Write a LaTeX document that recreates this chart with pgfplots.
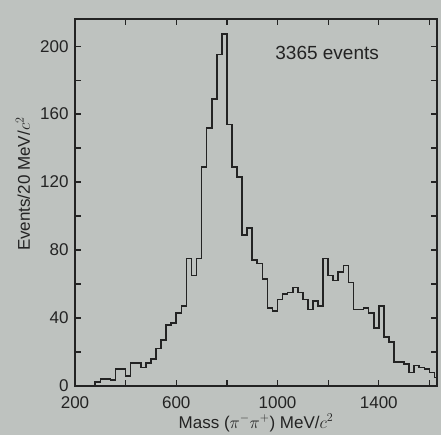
\documentclass[border=0pt]{standalone}
\usepackage{fontspec}
\setmainfont{Liberation Sans}
\usepackage{pgfplots}
\usepackage{pgfplotstable}
\pgfplotsset{compat=1.18}
\usetikzlibrary{backgrounds}
\definecolor{bg}{RGB}{190,194,191}
\definecolor{ink}{RGB}{35,35,35}

\pgfplotstableread{
x y
280 0
280 2.5
300 4
320 4
340 3.5
360 10
380 10
400 6
420 13.5
440 13.5
460 11
480 13.5
500 16
520 22
540 27
560 36
580 37
600 43
620 47
640 75
660 65
680 75
700 129
720 152
740 169
760 195
780 207
800 154
820 129
840 123
860 89
880 93
900 74
920 72
940 63
960 46
980 44
1000 51
1020 54
1040 55
1060 58
1080 55
1100 51
1120 45
1140 50
1160 47
1180 75
1200 65
1220 62
1240 67
1260 71
1280 61
1300 45
1320 45
1340 46
1360 43
1380 34
1400 47
1420 29
1440 26
1460 14
1480 14
1500 13
1520 8
1540 12
1560 11
1580 10
1600 8
1620 5
1630 5
1630 0
}\hist

\begin{document}
\begin{tikzpicture}[show background rectangle,
  background rectangle/.style={fill=bg, draw=none},
  inner frame xsep=0pt, inner frame ysep=0pt]
\begin{axis}[
  scale only axis, width=362pt, height=367pt,
  xmin=200, xmax=1630, ymin=0, ymax=216,
  xtick={200,400,...,1600}, xticklabels={200,,600,,1000,,1400,},
  ytick={0,40,...,200}, minor ytick={20,60,...,180},
  major tick length=6pt, minor tick length=6pt,
  every tick/.style={line width=1.3pt, color=ink},
  axis line style={line width=1.6pt, color=ink},
  tick label style={font=\fontsize{17}{20}\selectfont, color=ink},
  xticklabel style={inner ysep=0pt, yshift=-10pt},
  yticklabel style={inner ysep=0pt, xshift=-3pt},
  /pgf/number format/assume math mode=true,
  xlabel={Mass ($\pi^{-}\pi^{+}$) MeV/$c^2$},
  ylabel={Events/20 MeV/$c^2$},
  every axis x label/.style={at={(axis description cs:0.5,0)}, anchor=center, yshift=-37pt, font=\fontsize{17}{20}\selectfont, color=ink},
  every axis y label/.style={at={(axis description cs:-0.144,0.55)}, rotate=90, anchor=center, font=\fontsize{17}{20}\selectfont, color=ink},
  clip=false,
]
\addplot[const plot, line width=1.6pt, color=ink, sharp corners] table[x=x, y=y] {\hist};
\node[font=\fontsize{19}{22}\selectfont, color=ink] at (axis cs:1196,196) {3365 events};
\end{axis}
\path (current axis.south west) ++(-75pt,-49pt) coordinate (bbA);
\path (current axis.north east) ++(4pt,19pt) coordinate (bbB);
\end{tikzpicture}
\end{document}
